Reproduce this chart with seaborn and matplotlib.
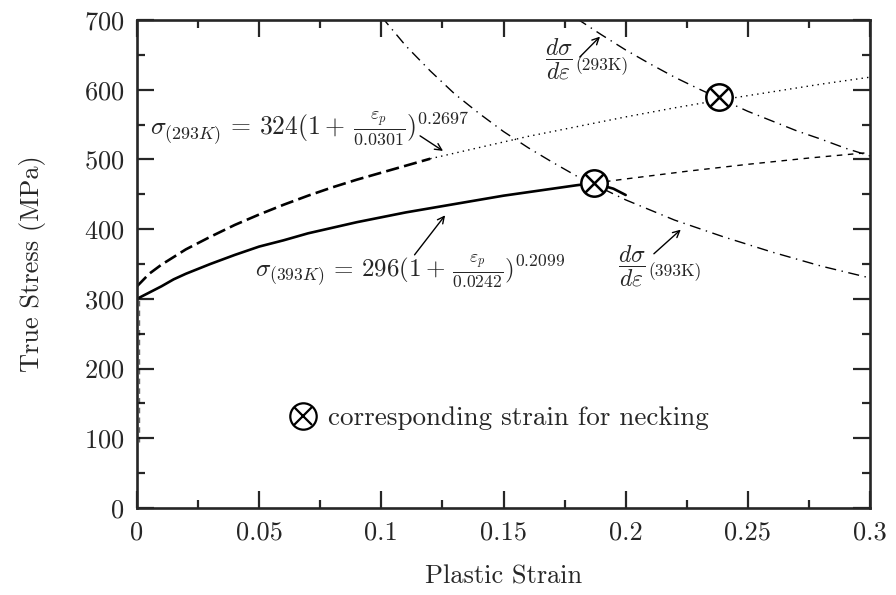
import numpy as np
import pandas as pd
import matplotlib
matplotlib.use('Agg')
import matplotlib.pyplot as plt
from matplotlib.lines import Line2D
import seaborn as sns

# experimental curve, 393K (solid)
strain_393 = [0, 0.005, 0.01, 0.015, 0.02, 0.03, 0.04, 0.05, 0.06, 0.07, 0.08, 0.09, 0.1,
              0.11, 0.12, 0.13, 0.14, 0.15, 0.16, 0.17, 0.18, 0.187, 0.19, 0.195, 0.2]
stress_393 = [300, 309, 318, 328, 336, 350, 363, 375, 384, 394, 402, 410, 417,
              424, 430, 436, 442, 448, 453, 458, 463, 466, 463, 458, 449]

# experimental curve, 293K (bold dashed)
strain_293 = [0, 0.005, 0.01, 0.015, 0.02, 0.03, 0.04, 0.05, 0.06, 0.07, 0.08, 0.09, 0.1, 0.11, 0.12]
stress_293 = [318, 336, 349, 360, 371, 389, 406, 421, 435, 448, 460, 471, 481, 491, 501]

# elastic part near zero strain
elastic_x = [0.0008, 0.0008]
elastic_y = [95, 300]

# fitted continuations
fit293_x = [0.12, 0.14, 0.16, 0.18, 0.2, 0.22, 0.24, 0.26, 0.28, 0.3]
fit293_y = [501, 517, 533, 547, 561, 574, 586, 597, 608, 618]
fit393_x = [0.187, 0.2, 0.225, 0.25, 0.275, 0.3]
fit393_y = [466, 472, 483, 493, 502, 510]

# hardening rates d(sigma)/d(eps)
rate293_x = [0.18, 0.19, 0.2, 0.21, 0.22, 0.23, 0.24, 0.25, 0.26, 0.27, 0.28, 0.29, 0.3]
rate293_y = [702, 679, 657, 637, 618, 601, 585, 569, 555, 541, 529, 516, 505]
rate393_x = [0.1, 0.11, 0.12, 0.13, 0.14, 0.15, 0.16, 0.17, 0.18, 0.19, 0.2, 0.22, 0.24, 0.26, 0.28, 0.3]
rate393_y = [705, 663, 627, 594, 566, 540, 517, 496, 476, 459, 442, 413, 389, 367, 347, 330]

# necking points
neck_x = [0.187, 0.238]
neck_y = [466, 590]

sns.set_theme(style='ticks')
plt.rcParams['font.family'] = ['cmr10', 'DejaVu Serif']
plt.rcParams['mathtext.fontset'] = 'cm'
plt.rcParams['axes.formatter.use_mathtext'] = True
plt.rcParams['axes.unicode_minus'] = False

fig = plt.figure(figsize=(8.96, 5.95), dpi=100)
ax = fig.add_axes([0.1529, 0.1462, 0.8181, 0.8202])

sns.lineplot(x=strain_393, y=stress_393, ax=ax, color='black', lw=1.9)
sns.lineplot(x=strain_293, y=stress_293, ax=ax, color='black', lw=1.9).lines[-1].set_dashes([5, 2])
ax.plot(elastic_x, elastic_y, color='black', lw=1.0, dashes=[4, 3], alpha=0.6)
sns.lineplot(x=fit293_x, y=fit293_y, ax=ax, color='black', lw=1.0).lines[-1].set_dashes([1, 3])
sns.lineplot(x=fit393_x, y=fit393_y, ax=ax, color='black', lw=1.0).lines[-1].set_dashes([4, 4])
sns.lineplot(x=rate293_x, y=rate293_y, ax=ax, color='black', lw=1.0).lines[-1].set_dashes([8, 4, 1, 4])
sns.lineplot(x=rate393_x, y=rate393_y, ax=ax, color='black', lw=1.0).lines[-1].set_dashes([8, 4, 1, 4])

ax.plot(neck_x, neck_y, ls='none', marker='o', ms=19, mfc='white', mec='black', mew=1.8, zorder=5)
ax.plot(neck_x, neck_y, ls='none', marker='x', ms=13, mec='black', mew=1.8, zorder=6)

ax.set_xlim(0, 0.3)
ax.set_ylim(0, 700)
ax.set_xticks([0, 0.05, 0.1, 0.15, 0.2, 0.25, 0.3])
ax.set_xticklabels(['0', '0.05', '0.1', '0.15', '0.2', '0.25', '0.3'])
ax.set_yticks(range(0, 701, 100))
ax.set_xticks(np.arange(0.025, 0.3, 0.05), minor=True)
ax.set_yticks(range(50, 700, 100), minor=True)
ax.tick_params(which='both', direction='in', top=True, right=True, width=1.6, labelsize=19, pad=9)
ax.tick_params(which='major', length=12)
ax.tick_params(which='minor', length=6)
for s in ax.spines.values():
    s.set_linewidth(1.9)

ax.set_xlabel('Plastic Strain', fontsize=19, labelpad=15)
ax.set_ylabel('True Stress (MPa)', fontsize=19, labelpad=27)

arrow = dict(arrowstyle='->', color='black', lw=1.0)
ax.text(0.0708, 545, r'$\sigma_{(293K)}\,=\,324(1+\,\frac{\varepsilon_p}{0.0301})^{0.2697}$',
        fontsize=18.5, ha='center', va='center')
ax.annotate('', xy=(0.1262, 510), xytext=(0.1149, 536), arrowprops=arrow)
ax.text(0.1117, 341, r'$\sigma_{(393K)}\,=\,296(1+\,\frac{\varepsilon_p}{0.0242})^{0.2099}$',
        fontsize=18, ha='center', va='center')
ax.annotate('', xy=(0.1268, 423), xytext=(0.1129, 360), arrowprops=arrow)
ax.text(0.1670, 643, r'$\dfrac{d\sigma}{d\varepsilon}$', fontsize=17, ha='left', va='center')
ax.text(0.1795, 635, '(293K)', fontsize=12.5, ha='left', va='center')
ax.annotate('', xy=(0.1903, 679), xytext=(0.1804, 644), arrowprops=arrow)
ax.text(0.1968, 347, r'$\dfrac{d\sigma}{d\varepsilon}$', fontsize=17, ha='left', va='center')
ax.text(0.2093, 339, '(393K)', fontsize=12.5, ha='left', va='center')
ax.annotate('', xy=(0.2234, 402), xytext=(0.2107, 362), arrowprops=arrow)

h_circle = Line2D([], [], ls='none', marker='o', ms=19, mfc='white', mec='black', mew=1.6)
h_cross = Line2D([], [], ls='none', marker='x', ms=13, mec='black', mew=1.6)
ax.legend([(h_circle, h_cross)], ['corresponding strain for necking'],
          loc='center left', bbox_to_anchor=(0.175, 0.184), frameon=False,
          fontsize=19.5, handlelength=0.95, handletextpad=0.45)

fig.savefig('out.png', dpi=100)
